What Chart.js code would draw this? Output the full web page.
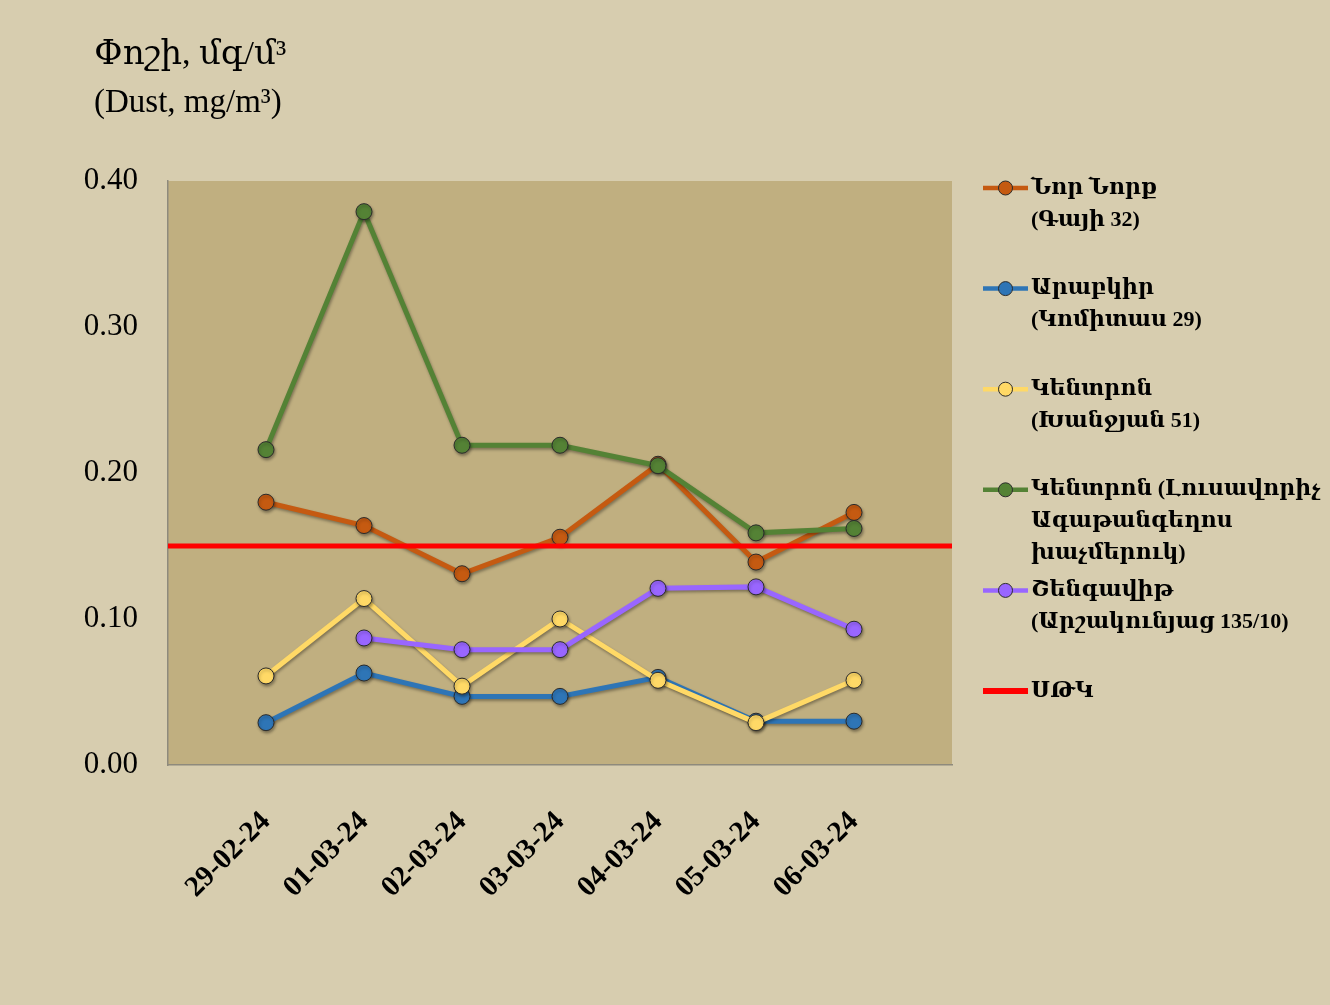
<!DOCTYPE html>
<html>
<head>
<meta charset="utf-8">
<script src="https://cdn.jsdelivr.net/npm/chart.js@4.4.1/dist/chart.umd.min.js"></script>
<style>
  html, body { margin: 0; padding: 0; background: #D7CDAF; }
  canvas { display: block; }
</style>
</head>
<body>
<canvas id="dustChart" width="1330" height="1005"></canvas>
<script>
// dates on the x axis
const dates = ['29-02-24', '01-03-24', '02-03-24', '03-03-24', '04-03-24', '05-03-24', '06-03-24'];

// stations (legend text, lines split with \n)
const stationNames = [
    'Նոր Նորք\n(Գայի 32)',
    'Արաբկիր\n(Կոմիտաս 29)',
    'Կենտրոն\n(Խանջյան 51)',
    'Կենտրոն (Լուսավորիչ\nԱգաթանգեղոս\nխաչմերուկ)',
    'Շենգավիթ\n(Արշակունյաց 135/10)'
];
const mpcName = 'ՍԹԿ';

// values, mg/m3
const norNork   = [0.180, 0.164, 0.131, 0.156, 0.206, 0.139, 0.173];
const arabkir   = [0.029, 0.063, 0.047, 0.047, 0.060, 0.030, 0.030];
const kentronKh = [0.061, 0.114, 0.054, 0.100, 0.058, 0.029, 0.058];
const kentronL  = [0.216, 0.379, 0.219, 0.219, 0.205, 0.159, 0.162];
const shengavit = [null, 0.087, 0.079, 0.079, 0.121, 0.122, 0.093];
const mpcLimit  = 0.15;

const yTicks = [0, 0.1, 0.2, 0.3, 0.4];

const colors = ['#C55A11', '#2E75B6', '#FFD966', '#548235', '#9966FF'];
const mpcColor = '#FF0000';

const serif = '"Liberation Serif", "DejaVu Serif", serif';

// empty label at each end, so the points sit one step inside the plot
const padLeft = ' ', padRight = '  ';
const xLabels = [padLeft].concat(dates, [padRight]);

function toPoints(vals) {
    return dates.map((d, i) => ({ x: d, y: vals[i] }));
}

const seriesValues = [norNork, arabkir, kentronKh, kentronL, shengavit];

const datasets = seriesValues.map((vals, i) => ({
    label: stationNames[i],
    data: toPoints(vals),
    borderColor: colors[i],
    backgroundColor: colors[i],
    pointBackgroundColor: colors[i],
    pointBorderColor: '#2b2b2b',
    pointBorderWidth: 1,
    pointRadius: 8,
    borderWidth: 5,
    tension: 0,
    order: 10 - i
}));

datasets.push({
    label: mpcName,
    data: [{ x: padLeft, y: mpcLimit }, { x: padRight, y: mpcLimit }],
    borderColor: mpcColor,
    backgroundColor: mpcColor,
    borderWidth: 5,
    pointRadius: 0,
    order: 0
});

// plot background + drop shadow on the series
const plotBg = {
    id: 'plotBg',
    beforeDraw(chart) {
        const a = chart.chartArea;
        const ctx = chart.ctx;
        ctx.save();
        ctx.fillStyle = '#C0AF80';
        ctx.fillRect(a.left, a.top, a.right - a.left, a.bottom - a.top);
        ctx.restore();
    },
    beforeDatasetDraw(chart, args) {
        const ctx = chart.ctx;
        ctx.save();
        if (args.index < seriesValues.length) {
            ctx.shadowColor = 'rgba(0,0,0,0.35)';
            ctx.shadowBlur = 3;
            ctx.shadowOffsetX = 1;
            ctx.shadowOffsetY = 2;
        }
    },
    afterDatasetDraw(chart) {
        chart.ctx.restore();
    }
};

// title and the multi-line legend on the right
const sideText = {
    id: 'sideText',
    afterDraw(chart) {
        const ctx = chart.ctx;
        ctx.save();
        ctx.fillStyle = '#000';
        ctx.textBaseline = 'alphabetic';
        ctx.textAlign = 'left';
        ctx.font = '34px ' + serif;
        ctx.fillText('Փոշի, մգ/մ³', 94, 64);
        ctx.font = '33px ' + serif;
        ctx.fillText('(Dust, mg/m³)', 94, 112);

        const x0 = 983, lineLen = 45, textX = 1031;
        const step = 100.6, lineH = 32;
        ctx.font = 'bold 22px ' + serif;
        ctx.textBaseline = 'middle';
        chart.data.datasets.forEach((ds, i) => {
            const y = 188 + i * step;
            ctx.strokeStyle = ds.borderColor;
            ctx.lineWidth = i < seriesValues.length ? 4.5 : 6;
            ctx.beginPath();
            ctx.moveTo(x0, y);
            ctx.lineTo(x0 + lineLen, y);
            ctx.stroke();
            if (i < seriesValues.length) {
                ctx.beginPath();
                ctx.arc(x0 + lineLen / 2, y, 7, 0, Math.PI * 2);
                ctx.fillStyle = ds.borderColor;
                ctx.fill();
                ctx.lineWidth = 1;
                ctx.strokeStyle = '#2b2b2b';
                ctx.stroke();
            }
            ctx.fillStyle = '#000';
            ds.label.split('\n').forEach((line, j) => {
                ctx.fillText(line, textX, y + j * lineH);
            });
        });
        ctx.restore();
    }
};

new Chart(document.getElementById('dustChart').getContext('2d'), {
    type: 'line',
    data: {
        labels: xLabels,
        datasets: datasets
    },
    options: {
        responsive: false,
        animation: false,
        devicePixelRatio: 1,
        layout: {
            padding: { top: 181, right: 378, bottom: 0, left: 0 }
        },
        plugins: {
            legend: { display: false },
            tooltip: { enabled: false }
        },
        scales: {
            x: {
                type: 'category',
                offset: false,
                grid: { display: false, drawTicks: false },
                border: { display: true, color: '#8E8A7C', width: 1.5 },
                ticks: {
                    color: '#000',
                    font: { family: serif, size: 29, weight: 'bold' },
                    minRotation: 45,
                    maxRotation: 45,
                    padding: 40,
                    autoSkip: false
                },
                afterFit(scale) {
                    scale.height = 1005 - 765;
                }
            },
            y: {
                min: 0,
                max: 0.4,
                grid: { display: false, drawTicks: false },
                border: { display: true, color: '#8E8A7C', width: 1.5 },
                afterBuildTicks(scale) {
                    scale.ticks = yTicks.map(v => ({ value: v }));
                },
                ticks: {
                    color: '#000',
                    font: { family: serif, size: 31 },
                    padding: 30,
                    callback: v => v.toFixed(2)
                },
                afterFit(scale) {
                    scale.width = 168;
                }
            }
        }
    },
    plugins: [plotBg, sideText]
});
</script>
</body>
</html>
